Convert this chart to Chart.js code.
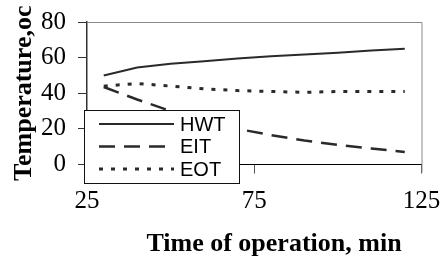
<!DOCTYPE html>
<html>
<head>
<meta charset="utf-8">
<script src="https://cdn.jsdelivr.net/npm/chart.js@4"></script>
<style>
  html, body { margin: 0; padding: 0; background: #fff; }
  #wrap { width: 443px; height: 260px; }
</style>
</head>
<body>
<div id="wrap"><canvas id="chart" width="443" height="260"></canvas></div>
<script>
// Data
const times = [30, 40, 50, 60, 70, 80, 90, 100, 110, 120];
const hwt = [50, 54.5, 56.5, 58, 59.5, 60.8, 61.8, 62.8, 64, 65];
const eit = [43.5, 36.5, 30, 24.5, 20, 16.5, 13.5, 11, 9, 7];
const eot = [44, 45.5, 44, 42.5, 41.5, 41, 40.5, 41, 41, 41];
const seriesNames = ['HWT', 'EIT', 'EOT'];
const xTicks = [25, 75, 125];
const yTicks = [0, 20, 40, 60, 80];

const lineColor = '#2a2a2a';
const serif = '"Liberation Serif", "Times New Roman", serif';
const sans = '"Liberation Sans", Arial, sans-serif';

function points(values) {
    return times.map((t, i) => ({ x: t, y: values[i] }));
}

// Top and right frame lines of the plot area
const framePlugin = {
    id: 'frame',
    beforeDatasetsDraw(chart) {
        const { ctx, chartArea: a } = chart;
        ctx.save();
        ctx.strokeStyle = '#8a8a8a';
        ctx.lineWidth = 1;
        ctx.beginPath();
        ctx.moveTo(a.left, a.top + 0.5);
        ctx.lineTo(a.right + 0.5, a.top + 0.5);
        ctx.lineTo(a.right + 0.5, a.bottom + 8);
        ctx.stroke();
        ctx.restore();
    }
};

// Boxed legend sitting over the lower left of the plot, plus x title
const legendPlugin = {
    id: 'boxLegend',
    afterDraw(chart) {
        const { ctx } = chart;
        ctx.save();
        const bx = 84, by = 110, bw = 155, bh = 73;
        ctx.fillStyle = '#fff';
        ctx.fillRect(bx, by, bw, bh);
        ctx.strokeStyle = '#111';
        ctx.lineWidth = 1;
        ctx.strokeRect(bx + 0.5, by + 0.5, bw, bh);

        chart.data.datasets.forEach((ds, i) => {
            const y = by + 14 + i * 22.5;
            ctx.strokeStyle = ds.borderColor;
            ctx.lineWidth = ds.borderWidth;
            ctx.setLineDash(ds.borderDash || []);
            ctx.beginPath();
            ctx.moveTo(99, y);
            ctx.lineTo(174, y);
            ctx.stroke();
            ctx.setLineDash([]);
            ctx.fillStyle = '#000';
            ctx.font = '20px ' + sans;
            ctx.textBaseline = 'middle';
            ctx.textAlign = 'left';
            ctx.fillText(ds.label, 180, y + 1);
        });

        ctx.fillStyle = '#000';
        ctx.font = 'bold 26px ' + serif;
        ctx.textAlign = 'center';
        ctx.textBaseline = 'middle';
        ctx.fillText('Time of operation, min', 274, 244);
        ctx.restore();
    }
};

const ctx = document.getElementById('chart').getContext('2d');
const chart = new Chart(ctx, {
    type: 'line',
    data: {
        datasets: [{
            label: seriesNames[0],
            data: points(hwt),
            borderColor: lineColor,
            borderWidth: 2,
            pointRadius: 0,
            tension: 0
        }, {
            label: seriesNames[1],
            data: points(eit),
            borderColor: lineColor,
            borderWidth: 2.5,
            borderDash: [16, 9],
            pointRadius: 0,
            tension: 0
        }, {
            label: seriesNames[2],
            data: points(eot),
            borderColor: lineColor,
            borderWidth: 3,
            borderDash: [4, 8],
            pointRadius: 0,
            tension: 0
        }]
    },
    options: {
        responsive: false,
        animation: false,
        events: [],
        layout: { padding: { left: 0, top: 22, right: 21.5, bottom: 0 } },
        plugins: { legend: { display: false }, tooltip: { enabled: false } },
        scales: {
            x: {
                type: 'linear',
                min: 25,
                max: 125,
                afterBuildTicks: (scale) => { scale.ticks = xTicks.map(v => ({ value: v })); },
                afterFit: (scale) => {
                    scale.height = 95.5;
                    scale.paddingLeft = 0;
                    scale.paddingRight = 0;
                },
                border: { display: true, color: '#000', width: 1 },
                grid: { drawOnChartArea: false, drawTicks: true, tickLength: 9, color: '#555' },
                ticks: {
                    color: '#000',
                    padding: 13,
                    maxRotation: 0,
                    font: { family: serif, size: 25 }
                },
                title: { display: false }
            },
            y: {
                min: 0,
                max: 80,
                afterBuildTicks: (scale) => { scale.ticks = yTicks.map(v => ({ value: v })); },
                afterFit: (scale) => {
                    scale.width = 87;
                    scale.paddingTop = 0;
                    scale.paddingBottom = 0;
                },
                border: { display: true, color: '#333', width: 1.5 },
                grid: { drawOnChartArea: false, drawTicks: true, tickLength: 9, color: '#333' },
                ticks: {
                    color: '#000',
                    padding: 12,
                    font: { family: serif, size: 25 }
                },
                title: {
                    display: true,
                    text: 'Temperature,oc',
                    color: '#000',
                    padding: { top: 9, bottom: 0 },
                    font: { family: serif, size: 26, weight: 'bold' }
                }
            }
        }
    },
    plugins: [framePlugin, legendPlugin]
});
</script>
</body>
</html>
